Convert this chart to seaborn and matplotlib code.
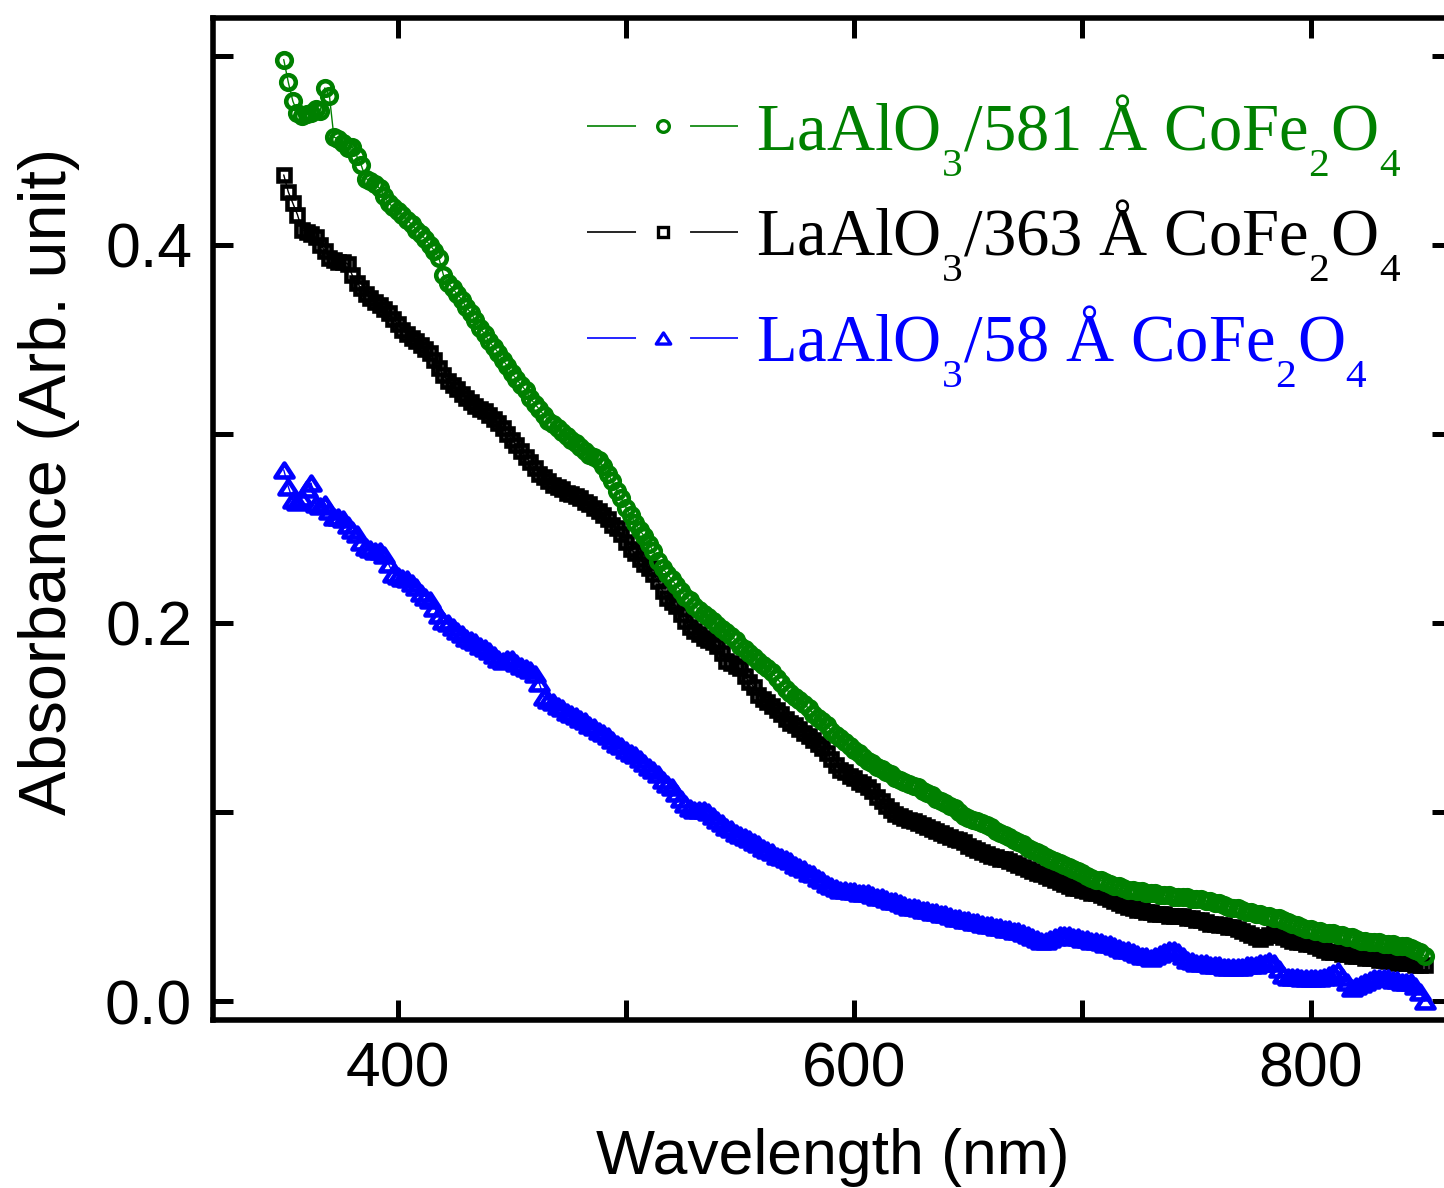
import numpy as np
import matplotlib
matplotlib.use("Agg")
import matplotlib.pyplot as plt
from matplotlib.lines import Line2D
from matplotlib.path import Path
from matplotlib.ticker import MultipleLocator
import seaborn as sns

# wavelength grid (nm)
wavelength = np.arange(350, 851, 2)

# LaAlO3/581 A CoFe2O4
abs_581 = [
    0.498, 0.486, 0.476, 0.470, 0.468, 0.469, 0.470, 0.472, 0.471, 0.483,
    0.479, 0.457, 0.456, 0.454, 0.451, 0.452, 0.447, 0.442, 0.435, 0.434,
    0.432, 0.430, 0.426, 0.422, 0.420, 0.418, 0.416, 0.413, 0.411, 0.408,
    0.406, 0.403, 0.400, 0.397, 0.393, 0.384, 0.380, 0.377, 0.374, 0.371,
    0.367, 0.364, 0.360, 0.356, 0.353, 0.349, 0.346, 0.343, 0.339, 0.336,
    0.332, 0.329, 0.326, 0.323, 0.319, 0.316, 0.313, 0.310, 0.307, 0.305,
    0.303, 0.301, 0.299, 0.297, 0.295, 0.293, 0.291, 0.289, 0.288, 0.286,
    0.283, 0.279, 0.275, 0.270, 0.266, 0.261, 0.257, 0.253, 0.249, 0.246,
    0.242, 0.238, 0.233, 0.229, 0.226, 0.223, 0.220, 0.217, 0.214, 0.212,
    0.209, 0.207, 0.205, 0.203, 0.201, 0.199, 0.197, 0.195, 0.193, 0.191,
    0.188, 0.186, 0.184, 0.182, 0.180, 0.178, 0.176, 0.174, 0.171, 0.168,
    0.165, 0.163, 0.161, 0.159, 0.157, 0.155, 0.152, 0.150, 0.148, 0.146,
    0.143, 0.141, 0.139, 0.137, 0.135, 0.133, 0.131, 0.129, 0.127, 0.126,
    0.124, 0.123, 0.121, 0.120, 0.118, 0.117, 0.116, 0.115, 0.114, 0.113,
    0.111, 0.110, 0.109, 0.107, 0.106, 0.105, 0.103, 0.102, 0.100, 0.098,
    0.097, 0.096, 0.095, 0.094, 0.093, 0.092, 0.090, 0.089, 0.088, 0.087,
    0.085, 0.084, 0.083, 0.081, 0.080, 0.079, 0.078, 0.076, 0.075, 0.074,
    0.073, 0.072, 0.071, 0.070, 0.069, 0.068, 0.066, 0.065, 0.064, 0.064,
    0.063, 0.062, 0.061, 0.061, 0.060, 0.059, 0.059, 0.058, 0.058, 0.057,
    0.057, 0.057, 0.056, 0.056, 0.056, 0.055, 0.055, 0.055, 0.055, 0.054,
    0.054, 0.054, 0.053, 0.053, 0.052, 0.052, 0.051, 0.050, 0.049, 0.049,
    0.048, 0.047, 0.047, 0.046, 0.046, 0.045, 0.045, 0.044, 0.044, 0.043,
    0.042, 0.041, 0.040, 0.039, 0.038, 0.038, 0.037, 0.037, 0.036, 0.036,
    0.036, 0.035, 0.035, 0.034, 0.034, 0.033, 0.032, 0.032, 0.031, 0.031,
    0.031, 0.030, 0.030, 0.030, 0.029, 0.029, 0.029, 0.028, 0.027, 0.026,
    0.024,
]

# LaAlO3/363 A CoFe2O4
abs_363 = [
    0.437, 0.428, 0.422, 0.416, 0.408, 0.407, 0.406, 0.404, 0.400, 0.397,
    0.393, 0.392, 0.391, 0.391, 0.390, 0.384, 0.380, 0.377, 0.374, 0.372,
    0.370, 0.368, 0.366, 0.364, 0.361, 0.358, 0.355, 0.353, 0.351, 0.349,
    0.347, 0.345, 0.343, 0.339, 0.335, 0.331, 0.328, 0.326, 0.324, 0.321,
    0.319, 0.317, 0.315, 0.313, 0.312, 0.310, 0.308, 0.306, 0.303, 0.300,
    0.297, 0.294, 0.291, 0.288, 0.285, 0.282, 0.279, 0.277, 0.275, 0.273,
    0.272, 0.271, 0.269, 0.268, 0.267, 0.266, 0.264, 0.263, 0.261, 0.259,
    0.257, 0.255, 0.252, 0.250, 0.247, 0.243, 0.239, 0.237, 0.234, 0.231,
    0.229, 0.226, 0.222, 0.217, 0.213, 0.211, 0.209, 0.205, 0.201, 0.198,
    0.196, 0.194, 0.192, 0.191, 0.190, 0.188, 0.184, 0.180, 0.179, 0.177,
    0.176, 0.172, 0.169, 0.166, 0.162, 0.160, 0.158, 0.156, 0.154, 0.152,
    0.149, 0.147, 0.146, 0.144, 0.142, 0.140, 0.138, 0.136, 0.134, 0.131,
    0.128, 0.125, 0.122, 0.121, 0.119, 0.118, 0.116, 0.115, 0.113, 0.111,
    0.108, 0.106, 0.103, 0.101, 0.099, 0.098, 0.097, 0.096, 0.095, 0.094,
    0.093, 0.092, 0.091, 0.090, 0.089, 0.088, 0.087, 0.086, 0.085, 0.084,
    0.082, 0.081, 0.080, 0.079, 0.078, 0.077, 0.076, 0.075, 0.075, 0.074,
    0.073, 0.072, 0.071, 0.070, 0.069, 0.068, 0.067, 0.066, 0.065, 0.064,
    0.063, 0.062, 0.061, 0.060, 0.060, 0.059, 0.058, 0.057, 0.057, 0.056,
    0.055, 0.054, 0.053, 0.052, 0.051, 0.050, 0.049, 0.048, 0.048, 0.047,
    0.047, 0.046, 0.046, 0.046, 0.045, 0.045, 0.045, 0.045, 0.044, 0.044,
    0.043, 0.043, 0.042, 0.041, 0.041, 0.040, 0.040, 0.039, 0.039, 0.038,
    0.037, 0.036, 0.035, 0.034, 0.033, 0.034, 0.035, 0.036, 0.035, 0.034,
    0.033, 0.032, 0.031, 0.031, 0.030, 0.030, 0.029, 0.028, 0.027, 0.026,
    0.026, 0.026, 0.025, 0.025, 0.024, 0.024, 0.024, 0.023, 0.023, 0.023,
    0.022, 0.022, 0.021, 0.021, 0.020, 0.020, 0.020, 0.020, 0.019, 0.019,
    0.019,
]

# LaAlO3/58 A CoFe2O4
abs_58 = [
    0.281, 0.272, 0.265, 0.264, 0.266, 0.271, 0.274, 0.263, 0.262, 0.263,
    0.259, 0.256, 0.256, 0.255, 0.252, 0.249, 0.247, 0.243, 0.240, 0.239,
    0.238, 0.238, 0.236, 0.231, 0.226, 0.225, 0.224, 0.223, 0.221, 0.219,
    0.216, 0.214, 0.212, 0.208, 0.204, 0.201, 0.200, 0.198, 0.196, 0.194,
    0.192, 0.191, 0.190, 0.188, 0.187, 0.185, 0.183, 0.181, 0.180, 0.181,
    0.181, 0.179, 0.177, 0.176, 0.175, 0.173, 0.168, 0.161, 0.159, 0.158,
    0.156, 0.155, 0.153, 0.152, 0.151, 0.149, 0.148, 0.146, 0.145, 0.143,
    0.142, 0.140, 0.138, 0.136, 0.135, 0.133, 0.131, 0.130, 0.128, 0.126,
    0.124, 0.122, 0.120, 0.117, 0.115, 0.113, 0.110, 0.107, 0.104, 0.102,
    0.101, 0.101, 0.101, 0.100, 0.098, 0.096, 0.094, 0.092, 0.091, 0.089,
    0.088, 0.087, 0.086, 0.084, 0.083, 0.081, 0.080, 0.079, 0.077, 0.076,
    0.075, 0.074, 0.072, 0.071, 0.070, 0.068, 0.067, 0.065, 0.064, 0.062,
    0.061, 0.060, 0.059, 0.059, 0.058, 0.058, 0.057, 0.057, 0.057, 0.056,
    0.055, 0.055, 0.054, 0.053, 0.053, 0.052, 0.051, 0.050, 0.050, 0.049,
    0.048, 0.048, 0.047, 0.047, 0.046, 0.046, 0.045, 0.044, 0.044, 0.043,
    0.043, 0.042, 0.042, 0.041, 0.040, 0.040, 0.039, 0.039, 0.038, 0.038,
    0.037, 0.037, 0.036, 0.035, 0.034, 0.033, 0.032, 0.032, 0.033, 0.034,
    0.035, 0.035, 0.035, 0.034, 0.034, 0.033, 0.033, 0.032, 0.032, 0.031,
    0.030, 0.030, 0.029, 0.028, 0.027, 0.027, 0.026, 0.025, 0.024, 0.024,
    0.023, 0.024, 0.025, 0.026, 0.027, 0.027, 0.026, 0.024, 0.022, 0.021,
    0.020, 0.020, 0.020, 0.019, 0.019, 0.019, 0.018, 0.018, 0.018, 0.018,
    0.018, 0.019, 0.019, 0.019, 0.020, 0.020, 0.021, 0.020, 0.017, 0.014,
    0.013, 0.013, 0.013, 0.012, 0.012, 0.012, 0.012, 0.012, 0.013, 0.014,
    0.015, 0.016, 0.013, 0.010, 0.007, 0.008, 0.009, 0.010, 0.011, 0.012,
    0.012, 0.012, 0.012, 0.011, 0.011, 0.010, 0.010, 0.010, 0.008, 0.005,
    0.000,
]

labels = [
    "LaAlO$_3$/581 Å CoFe$_2$O$_4$",
    "LaAlO$_3$/363 Å CoFe$_2$O$_4$",
    "LaAlO$_3$/58 Å CoFe$_2$O$_4$",
]
colors = ["#008000", "#000000", "#0000ff"]

# wide open triangle like the original
tri = Path([(-1, -0.77), (1, -0.77), (0, 0.77), (-1, -0.77)],
           [Path.MOVETO, Path.LINETO, Path.LINETO, Path.CLOSEPOLY])
markers = ["o", "s", tri]
msizes = [10.5, 8.5, 13]

#style
sns.set_style("ticks")
plt.rcParams["font.family"] = ["Liberation Sans", "DejaVu Sans"]
plt.rcParams["text.color"] = "black"
plt.rcParams["axes.labelcolor"] = "black"
plt.rcParams["xtick.color"] = "black"
plt.rcParams["ytick.color"] = "black"
plt.rcParams["mathtext.fontset"] = "custom"
plt.rcParams["mathtext.rm"] = "Liberation Serif"
plt.rcParams["mathtext.it"] = "Liberation Serif:italic"

# lower, smaller subscripts (Origin look)
try:
    import matplotlib._mathtext as _mt
    _mt.FontConstantsBase.sub1 = 0.85
    _mt.SHRINK_FACTOR = 0.62
except Exception:
    pass

fig = plt.figure(figsize=(14.44, 11.88), dpi=100)
ax = fig.add_axes([213 / 1444, 168 / 1188, 1239 / 1444, 1002 / 1188])

series = [abs_581, abs_363, abs_58]
# black drawn first, then green, then blue
for i in [1, 0, 2]:
    sns.lineplot(x=wavelength, y=series[i], ax=ax, color=colors[i],
                 marker=markers[i], markersize=msizes[i],
                 markerfacecolor="none", markeredgecolor=colors[i],
                 markeredgewidth=3.3, linewidth=1, legend=False,
                 sort=False, estimator=None)

ax.set_xlim(319, 862)
ax.set_ylim(-0.01, 0.52)
ax.xaxis.set_major_locator(MultipleLocator(200))
ax.xaxis.set_minor_locator(MultipleLocator(100))
ax.yaxis.set_major_locator(MultipleLocator(0.2))
ax.yaxis.set_minor_locator(MultipleLocator(0.1))
ax.yaxis.set_major_formatter(plt.FuncFormatter(lambda v, p: f"{v:.1f}"))

for s in ax.spines.values():
    s.set_linewidth(4)
    s.set_color("black")
ax.tick_params(which="both", direction="in", top=True, right=True,
               length=14.5, width=3.6, color="black")
ax.tick_params(which="major", labelsize=45, pad=15)

ax.set_xlabel("Wavelength (nm)", fontsize=45, labelpad=20)
ax.set_ylabel("Absorbance (Arb. unit)", fontsize=48)
ax.yaxis.set_label_coords(-0.107, 0.537)

# legend: line - marker - line
seg_lw = 1.2
handles = []
for i in range(3):
    seg = Line2D([], [], color=colors[i], lw=seg_lw,
                 linestyle=(0, (35.3 / seg_lw, 38.9 / seg_lw)))
    mk = Line2D([], [], color=colors[i], lw=0, marker=markers[i],
                markersize=msizes[i] * 0.8, markerfacecolor="white",
                markeredgecolor=colors[i], markeredgewidth=2.4)
    handles.append((seg, mk))

leg = ax.legend(handles, labels, loc="upper left",
                bbox_to_anchor=(587 / 1444, 1 - 92 / 1188),
                bbox_transform=fig.transFigure, frameon=False,
                prop={"family": "Liberation Serif", "size": 48},
                handlelength=2.27, handletextpad=0.27, labelspacing=0.3,
                borderpad=0, borderaxespad=0)
for t, c in zip(leg.get_texts(), colors):
    t.set_color(c)

fig.savefig("out.png", dpi=100)
